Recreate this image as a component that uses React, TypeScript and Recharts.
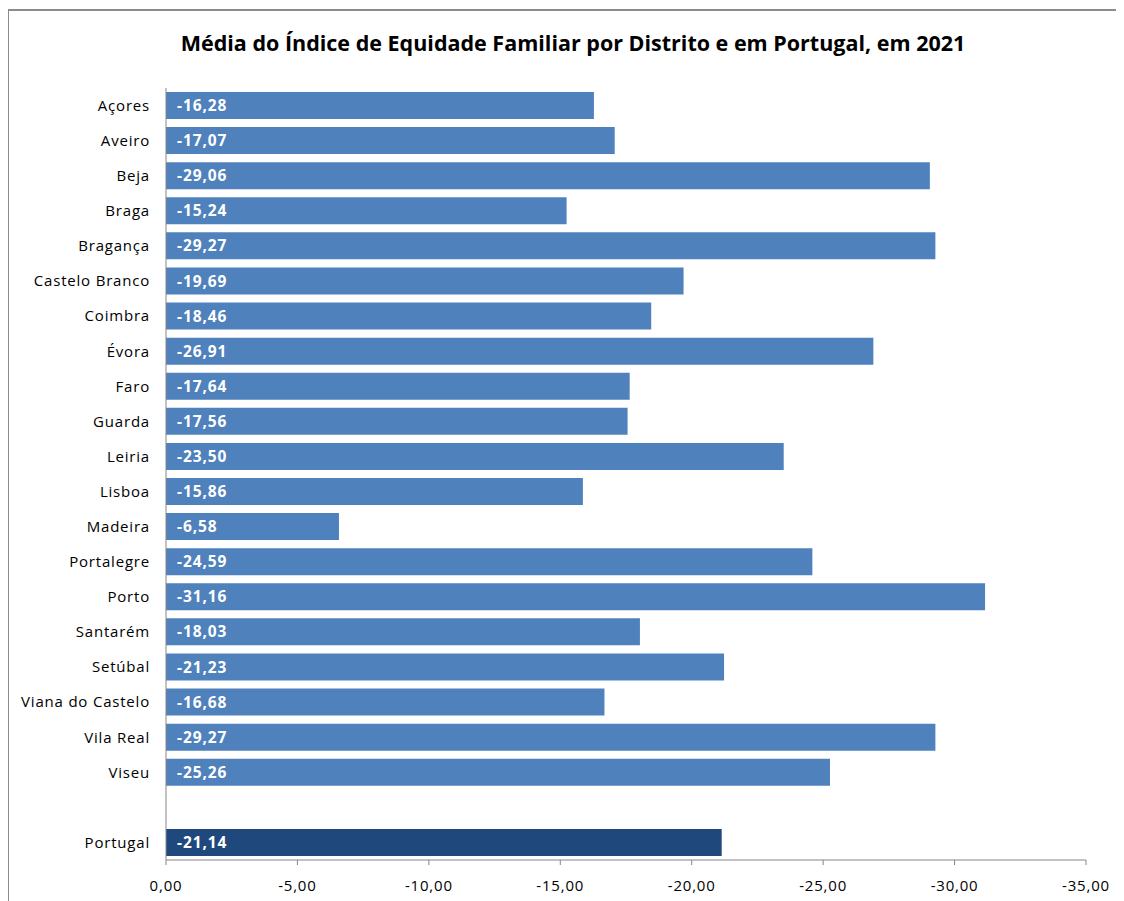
import { BarChart, Bar, XAxis, YAxis, Cell, LabelList } from "recharts"

const districts = [
    "Açores", "Aveiro", "Beja", "Braga", "Bragança", "Castelo Branco", "Coimbra", "Évora",
    "Faro", "Guarda", "Leiria", "Lisboa", "Madeira", "Portalegre", "Porto", "Santarém",
    "Setúbal", "Viana do Castelo", "Vila Real", "Viseu", "", "Portugal",
]
const indexValues = [
    -16.28, -17.07, -29.06, -15.24, -29.27, -19.69, -18.46, -26.91,
    -17.64, -17.56, -23.5, -15.86, -6.58, -24.59, -31.16, -18.03,
    -21.23, -16.68, -29.27, -25.26, null, -21.14,
]
const xTicks = [0, -5, -10, -15, -20, -25, -30, -35]

const data = districts.map((name, i) => ({ name, value: indexValues[i] }))

const FONT = "'Open Sans', sans-serif"
const fmt = (v: number) => v.toFixed(2).replace(".", ",")

function BarLabel(props: any) {
    const { x, y, width, height, value } = props
    if (value == null) return null
    const left = Math.min(x, x + width)
    return (
        <text
            x={left + 11}
            y={y + height / 2}
            dy="0.36em"
            fill="#fff"
            fontWeight="bold"
            fontSize={15.5}
            letterSpacing={0.9}
            fontFamily={FONT}
        >
            {fmt(value)}
        </text>
    )
}

export default function App() {
    return (
        <div style={{ position: "relative", width: 1116, height: 893, overflow: "hidden", background: "#fff" }}>
            <div
                style={{
                    position: "absolute",
                    left: -1,
                    top: 1,
                    width: 1200,
                    height: 1000,
                    borderLeft: "2px solid #8c8c8c",
                    borderTop: "2px solid #8c8c8c",
                }}
            />
            <div
                style={{
                    position: "absolute",
                    left: 0,
                    width: 1130,
                    top: 20,
                    textAlign: "center",
                    fontFamily: FONT,
                    fontWeight: "bold",
                    fontSize: 21.5,
                    color: "#000",
                }}
            >
                Média do Índice de Equidade Familiar por Distrito e em Portugal, em 2021
            </div>
            <BarChart
                layout="vertical"
                width={1116}
                height={893}
                data={data}
                margin={{ top: 80, right: 38, bottom: 0, left: 0 }}
                barSize={27}
                style={{ position: "absolute", left: 0, top: 0 }}
            >
                <XAxis
                    type="number"
                    domain={[-35, 0]}
                    reversed
                    ticks={xTicks}
                    tickFormatter={fmt}
                    height={41}
                    stroke="#868686"
                    tickSize={5}
                    tickMargin={15}
                    tick={{ fill: "#000", fontSize: 15, fontFamily: FONT, letterSpacing: 0.8 }}
                    interval={0}
                />
                <YAxis
                    type="category"
                    dataKey="name"
                    width={158}
                    stroke="#868686"
                    tickLine={false}
                    tickSize={8}
                    tickMargin={8}
                    interval={0}
                    tick={{ fill: "#000", fontSize: 15, fontFamily: FONT, letterSpacing: 0.8 }}
                />
                <Bar dataKey="value" isAnimationActive={false}>
                    {data.map((d) => (
                        <Cell key={d.name} fill={d.name === "Portugal" ? "#1F497D" : "#4F81BD"} />
                    ))}
                    <LabelList dataKey="value" content={<BarLabel />} />
                </Bar>
            </BarChart>
        </div>
    )
}
